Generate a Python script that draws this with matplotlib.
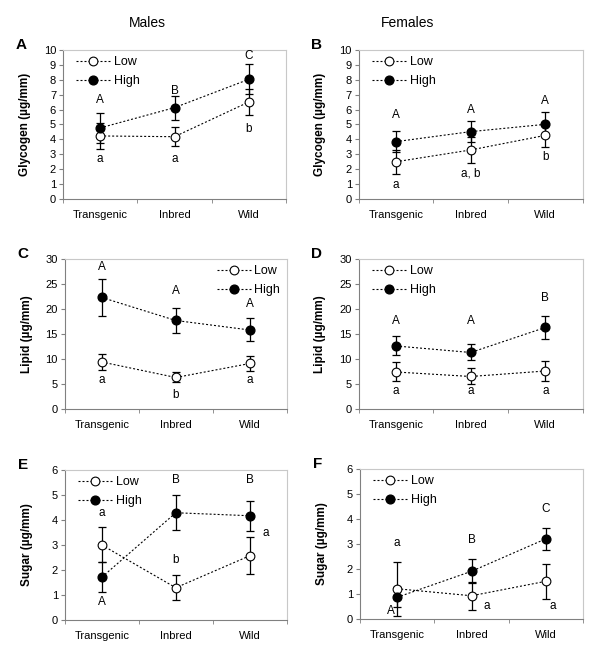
import matplotlib
matplotlib.use("Agg")
import matplotlib.pyplot as plt

plt.rcParams['font.family'] = ['Liberation Sans', 'DejaVu Sans']

groups = ["Transgenic", "Inbred", "Wild"]

# panel data: means and error bar half-widths
glyc_m_low = [4.23, 4.18, 6.51]
glyc_m_low_err = [0.9, 0.62, 0.87]
glyc_m_high = [4.77, 6.13, 8.03]
glyc_m_high_err = [1.0, 0.8, 1.0]

glyc_f_low = [2.5, 3.29, 4.27]
glyc_f_low_err = [0.8, 0.85, 0.8]
glyc_f_high = [3.85, 4.52, 5.01]
glyc_f_high_err = [0.7, 0.71, 0.85]

lipid_m_low = [9.4, 6.3, 9.1]
lipid_m_low_err = [1.6, 1.0, 1.5]
lipid_m_high = [22.3, 17.7, 15.8]
lipid_m_high_err = [3.7, 2.5, 2.3]

lipid_f_low = [7.4, 6.5, 7.6]
lipid_f_low_err = [1.9, 1.6, 2.0]
lipid_f_high = [12.6, 11.3, 16.3]
lipid_f_high_err = [1.9, 1.6, 2.3]

sugar_m_low = [3.0, 1.29, 2.57]
sugar_m_low_err = [0.7, 0.5, 0.75]
sugar_m_high = [1.71, 4.29, 4.17]
sugar_m_high_err = [0.6, 0.7, 0.6]

sugar_f_low = [1.21, 0.93, 1.51]
sugar_f_low_err = [1.07, 0.55, 0.7]
sugar_f_high = [0.87, 1.91, 3.21]
sugar_f_high_err = [0.4, 0.48, 0.45]

# significance letters (text, x, y)
letters_A = [("A", 0.5, 6.64), ("B", 1.5, 7.25), ("C", 2.5, 9.6),
             ("a", 0.5, 2.66), ("a", 1.5, 2.66), ("b", 2.5, 4.7)]
letters_B = [("A", 0.5, 5.64), ("A", 1.5, 5.97), ("A", 2.5, 6.58),
             ("a", 0.5, 0.94), ("a, b", 1.5, 1.72), ("b", 2.5, 2.8)]
letters_C = [("A", 0.5, 28.3), ("A", 1.5, 23.5), ("A", 2.5, 20.9),
             ("a", 0.5, 5.87), ("b", 1.5, 2.8), ("a", 2.5, 5.87)]
letters_D = [("A", 0.5, 17.5), ("A", 1.5, 17.5), ("B", 2.5, 22.2),
             ("a", 0.5, 3.5), ("a", 1.5, 3.5), ("a", 2.5, 3.5)]
letters_E = [("a", 0.5, 4.29), ("A", 0.5, 0.71), ("B", 1.5, 5.6),
             ("b", 1.5, 2.4), ("B", 2.5, 5.6), ("a", 2.72, 3.47)]
letters_F = [("a", 0.5, 3.04), ("A", 0.42, 0.33), ("B", 1.5, 3.17),
             ("C", 2.5, 4.4), ("a", 1.7, 0.53), ("a", 2.59, 0.53)]

panels = [
    ("A", [0.105, 0.6985, 0.3717, 0.2258], "Glycogen (\u00b5g/mm)", 10, 1,
     glyc_m_low, glyc_m_low_err, glyc_m_high, glyc_m_high_err, letters_A, "left"),
    ("B", [0.598, 0.6985, 0.373, 0.2258], "Glycogen (\u00b5g/mm)", 10, 1,
     glyc_f_low, glyc_f_low_err, glyc_f_high, glyc_f_high_err, letters_B, "left"),
    ("C", [0.108, 0.3803, 0.37, 0.2273], "Lipid (\u00b5g/mm)", 30, 5,
     lipid_m_low, lipid_m_low_err, lipid_m_high, lipid_m_high_err, letters_C, "right"),
    ("D", [0.598, 0.3803, 0.373, 0.2273], "Lipid (\u00b5g/mm)", 30, 5,
     lipid_f_low, lipid_f_low_err, lipid_f_high, lipid_f_high_err, letters_D, "left"),
    ("E", [0.108, 0.0606, 0.37, 0.2273], "Sugar (\u00b5g/mm)", 6, 1,
     sugar_m_low, sugar_m_low_err, sugar_m_high, sugar_m_high_err, letters_E, "left"),
    ("F", [0.6, 0.0621, 0.372, 0.2273], "Sugar (\u00b5g/mm)", 6, 1,
     sugar_f_low, sugar_f_low_err, sugar_f_high, sugar_f_high_err, letters_F, "left"),
]

fig = plt.figure(figsize=(6, 6.6), dpi=100)
x = [0.5, 1.5, 2.5]

for tag, rect, ylab, ymax, step, lo, lo_e, hi, hi_e, letters, legpos in panels:
    ax = fig.add_axes(rect)
    ax.errorbar(x, lo, yerr=lo_e, fmt='none', ecolor='black', elinewidth=0.9,
                capsize=3, capthick=0.9, zorder=2)
    ax.errorbar(x, hi, yerr=hi_e, fmt='none', ecolor='black', elinewidth=0.9,
                capsize=3, capthick=0.9, zorder=2)
    ax.plot(x, lo, linestyle=(0, (1.8, 1.8)), color='black', linewidth=0.8,
            marker='o', markersize=6.3, markerfacecolor='white',
            markeredgecolor='black', markeredgewidth=0.8, label='Low', zorder=3)
    ax.plot(x, hi, linestyle=(0, (1.8, 1.8)), color='black', linewidth=0.8,
            marker='o', markersize=6.3, markerfacecolor='black',
            markeredgecolor='black', label='High', zorder=3)
    for t, tx, ty in letters:
        ax.text(tx, ty, t, ha='center', va='center', fontsize=8.5)

    ax.set_xlim(0, 3)
    ax.set_ylim(0, ymax)
    ax.set_yticks(range(0, ymax + 1, step))
    ax.set_xticks(x)
    ax.set_xticklabels(groups)
    ax.set_xticks([0, 1, 2, 3], minor=True)
    ax.tick_params(axis='x', which='major', length=0, labelsize=8, pad=8)
    ax.tick_params(axis='x', which='minor', length=3, color='#808080')
    ax.tick_params(axis='y', length=3, labelsize=8, color='#808080', pad=2)
    for s in ['left', 'bottom']:
        ax.spines[s].set_color('#808080')
        ax.spines[s].set_linewidth(0.8)
    for s in ['top', 'right']:
        ax.spines[s].set_color('#c8c8c8')
        ax.spines[s].set_linewidth(0.8)

    ax.set_ylabel(ylab, fontsize=8.5, fontweight='bold')
    ax.yaxis.set_label_coords(-0.145, 0.5)

    if legpos == "left":
        ax.legend(loc='upper left', bbox_to_anchor=(0.06, 0.96), frameon=False,
                  fontsize=9, handlelength=2.7, handletextpad=0.3,
                  labelspacing=0.6, borderpad=0, borderaxespad=0)
    else:
        ax.legend(loc='upper right', bbox_to_anchor=(0.97, 0.96), frameon=False,
                  fontsize=9, handlelength=2.7, handletextpad=0.3,
                  labelspacing=0.6, borderpad=0, borderaxespad=0)

    fig.text(rect[0] - 0.07, rect[1] + rect[3] + 0.008, tag, fontsize=11,
             fontweight='bold', ha='center', va='center')

fig.text(0.245, 0.965, "Males", fontsize=10, ha='center', va='center')
fig.text(0.68, 0.965, "Females", fontsize=10, ha='center', va='center')

fig.savefig("out.png", dpi=100)
